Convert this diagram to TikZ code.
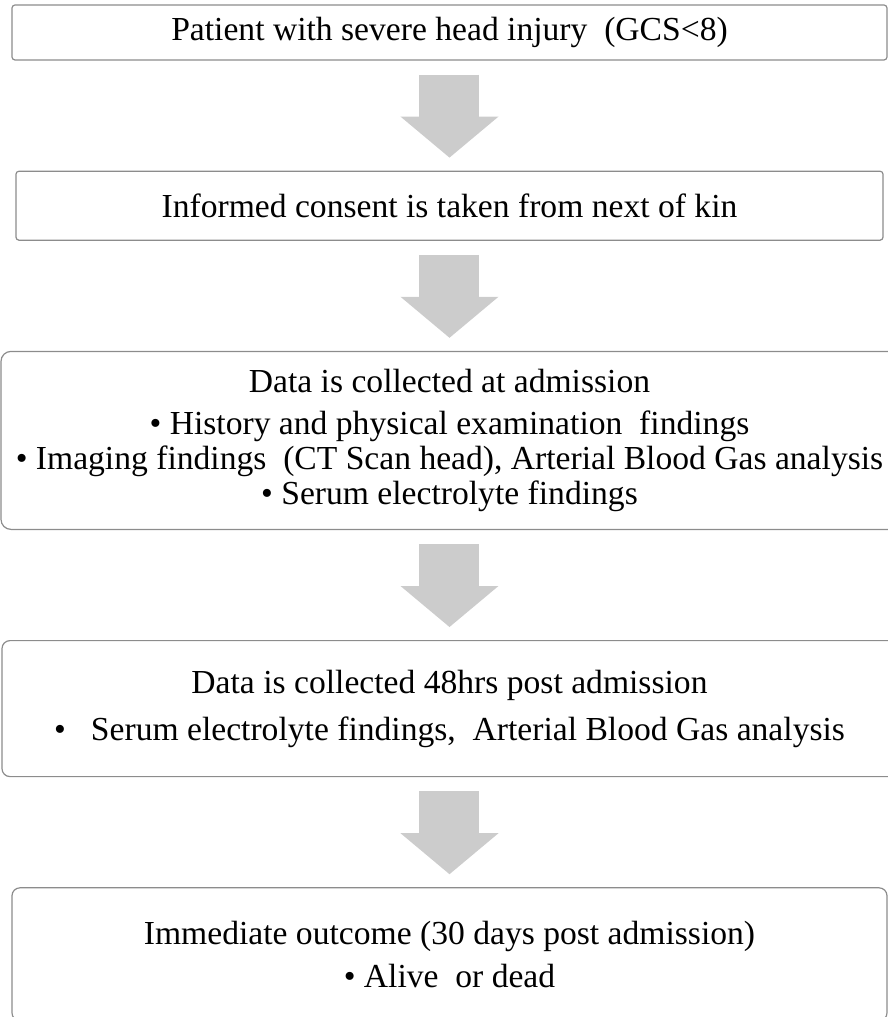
\documentclass[tikz,border=0pt]{standalone}
\usepackage{fontspec}
\setmainfont{Liberation Serif}
\usetikzlibrary{positioning, arrows.meta}
\tikzstyle{stepbox} = [rectangle, rounded corners=1.5pt, draw=black!45, line width=0.6pt, inner sep=0pt, align=center, font=\fontsize{16.8pt}{17.5pt}\selectfont]
\tikzstyle{bigarrow} = [draw=black!20, line width=30pt, -{Triangle[width=49pt, length=20.5pt, line width=0pt]}, shorten <=7pt, shorten >=6.5pt]

\begin{document}
\begin{tikzpicture}[node distance=55pt]

\useasboundingbox (-224.75pt,16.25pt) rectangle (219.25pt,-492.25pt);
\clip (-224.75pt,16.25pt) rectangle (219.25pt,-492.25pt);

% Nodes
\node (patient) [stepbox, minimum width=437.5pt, minimum height=27.5pt] {Patient with severe head injury\ \ (GCS<8)};
\node (consent) [stepbox, below=of patient, minimum width=433.5pt, minimum height=34.5pt] {Informed consent is taken from next of kin};
\node (admission) [stepbox, below=of consent, rounded corners=5pt, minimum width=448.5pt, minimum height=89pt] {Data is collected at admission\\[3.5pt]
  • History and physical examination\ \ findings\\
  • Imaging findings\ \ (CT Scan head), Arterial Blood Gas analysis\\
  • Serum electrolyte findings};
\node (followup) [stepbox, below=of admission, rounded corners=4pt, minimum width=447.5pt, minimum height=68pt] {Data is collected 48hrs post admission\\[6pt]
  •\ \ \ Serum electrolyte findings,\ \ Arterial Blood Gas analysis};
\node (outcome) [stepbox, below=of followup, rounded corners=4pt, minimum width=437.5pt, minimum height=66.5pt] {Immediate outcome (30 days post admission)\\[4pt]
  • Alive\ \ or dead};

% Arrows
\draw [bigarrow] (patient) -- (consent);
\draw [bigarrow] (consent) -- (admission);
\draw [bigarrow] (admission) -- (followup);
\draw [bigarrow] (followup) -- (outcome);

\end{tikzpicture}
\end{document}
